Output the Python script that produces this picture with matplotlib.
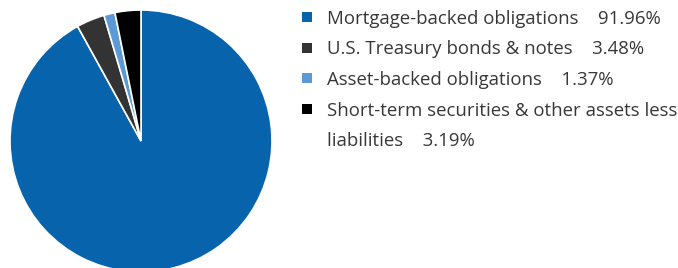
import matplotlib
matplotlib.use("Agg")
import matplotlib.pyplot as plt
from matplotlib.patches import Rectangle

labels = ["Mortgage-backed obligations", "U.S. Treasury bonds & notes",
          "Asset-backed obligations", "Short-term securities & other assets less\nliabilities"]
values = [91.96, 3.48, 1.37, 3.19]
colors = ["#0764AC", "#333333", "#5B9AD4", "#000000"]

W, H = 678, 268
fig = plt.figure(figsize=(W / 100, H / 100), dpi=100)

# pie: centre ~ (141, 141) px from top-left, radius ~131 px
cx, cy, r = 141, 141, 131
ax = fig.add_axes([(cx - r) / W, (H - cy - r) / H, 2 * r / W, 2 * r / H])
ax.pie(values, colors=colors, startangle=90, counterclock=False,
       wedgeprops=dict(edgecolor="white", linewidth=1.2))
ax.set_xlim(-1, 1)
ax.set_ylim(-1, 1)
ax.set_aspect("equal")
ax.axis("off")

# legend drawn by hand, baselines in px from top
base = [24, 54.5, 85, 115.5]
step = 30.5
for lab, val, col, y in zip(labels, values, colors, base):
    fig.patches.append(Rectangle((302 / W, (H - y + 2) / H), 10 / W, 10 / H,
                                 transform=fig.transFigure, facecolor=col,
                                 edgecolor="none"))
    lines = (lab + "    %.2f%%" % val).split("\n")
    for i, line in enumerate(lines):
        fig.text(327 / W, (H - y - i * step) / H, line, ha="left", va="baseline",
                 fontsize=13.4, family="Open Sans", color="#383838")

fig.savefig("out.png", dpi=100)
